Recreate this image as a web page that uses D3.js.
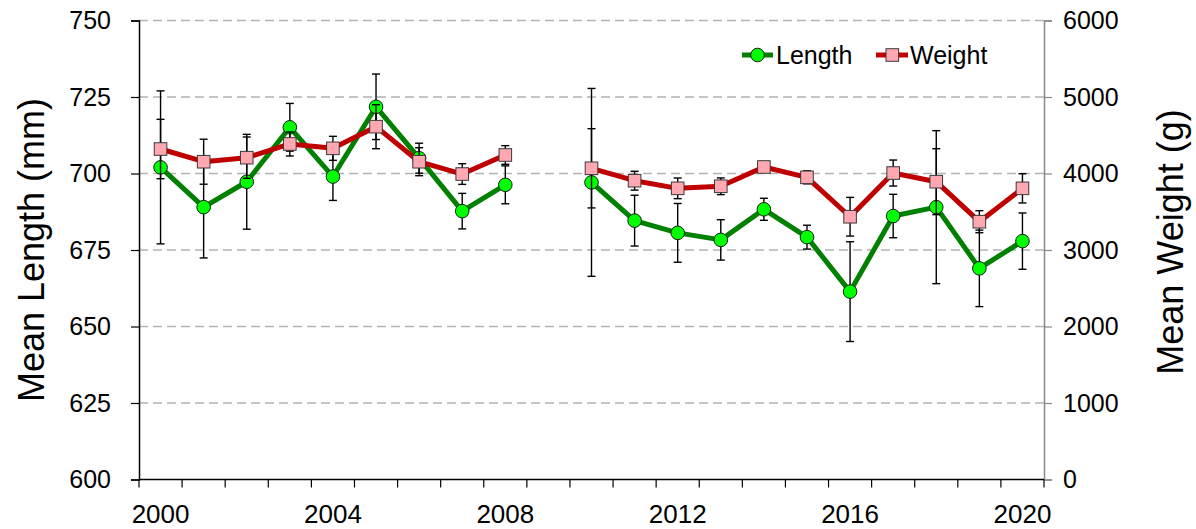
<!DOCTYPE html>
<html>
<head>
<meta charset="utf-8">
<script src="https://cdn.jsdelivr.net/npm/d3@7"></script>
<style>
  html, body { margin: 0; padding: 0; background: #fff; }
  svg { display: block; font-family: "Liberation Sans", Arial, sans-serif; }
</style>
</head>
<body>
<svg id="chart" width="1196" height="529"></svg>
<script>
// Survey years (no sampling in 2009)
const years = [2000, 2001, 2002, 2003, 2004, 2005, 2006, 2007, 2008, 2009,
               2010, 2011, 2012, 2013, 2014, 2015, 2016, 2017, 2018, 2019, 2020];
const yearLabels = [2000, 2004, 2008, 2012, 2016, 2020];

// Mean fork length (mm) and its error
const meanLength = [702.0, 689.0, 697.3, 715.1, 699.0, 721.8, 705.0, 687.7, 696.3, null,
                    697.1, 684.6, 680.6, 678.3, 688.3, 679.2, 661.4, 686.1, 689.0, 669.0, 677.9];
const lengthErr  = [25.0, 16.6, 15.5, 7.8, 7.8, 10.7, 4.9, 5.8, 6.2, null,
                    30.7, 8.3, 9.6, 6.6, 3.6, 3.9, 16.3, 7.1, 25.0, 12.5, 9.2];

// Mean weight (g) and its error
const meanWeight = [4320, 4154, 4207, 4386, 4329, 4612, 4154, 3993, 4242, null,
                    4068, 3906, 3806, 3833, 4085, 3950, 3435, 4006, 3893, 3370, 3806];
const weightErr  = [388, 294, 270, 157, 157, 288, 183, 135, 122, null,
                    518, 123, 135, 109, 60, 85, 253, 170, 431, 144, 191];

const lengthTicks = [600, 625, 650, 675, 700, 725, 750];
const weightTicks = [0, 1000, 2000, 3000, 4000, 5000, 6000];

const svg = d3.select("#chart");
const plotL = 139, plotR = 1044, plotT = 20.5, plotB = 479.5;

const x = d3.scaleBand().domain(years).range([plotL, plotR]).padding(0);
const cx = yr => x(yr) + x.bandwidth() / 2;
const yL = d3.scaleLinear().domain([600, 750]).range([plotB, plotT]);
const yW = d3.scaleLinear().domain([0, 6000]).range([plotB, plotT]);

// dashed gridlines
svg.append("g").selectAll("line")
  .data(lengthTicks.filter(t => t > 600))
  .join("line")
  .attr("x1", plotL).attr("x2", plotR)
  .attr("y1", d => yL(d)).attr("y2", d => yL(d))
  .attr("stroke", "#b3b3b3").attr("stroke-width", 1.5)
  .attr("stroke-dasharray", "9,5");

// left axis
const axL = svg.append("g").attr("transform", `translate(${plotL},0)`)
  .call(d3.axisLeft(yL).tickValues(lengthTicks).tickSize(8).tickPadding(20));
axL.select(".domain").attr("stroke", "#000").attr("stroke-width", 1.5);
axL.selectAll(".tick line").attr("stroke", "#000").attr("stroke-width", 1.2);
axL.selectAll("text").attr("font-size", 25).attr("fill", "#000")
  .attr("font-family", "Liberation Sans, Arial, sans-serif");

// right axis
const axR = svg.append("g").attr("transform", `translate(${plotR},0)`)
  .call(d3.axisRight(yW).tickValues(weightTicks).tickFormat(d3.format("d"))
    .tickSize(8).tickPadding(11));
axR.select(".domain").attr("stroke", "#888").attr("stroke-width", 1.5);
axR.selectAll(".tick line").attr("stroke", "#888").attr("stroke-width", 1.2);
axR.selectAll("text").attr("font-size", 25).attr("fill", "#000")
  .attr("font-family", "Liberation Sans, Arial, sans-serif");

// bottom axis: ticks on category boundaries, labels on category centres
const xb = svg.append("g").attr("transform", `translate(0,${plotB})`);
xb.append("line").attr("x1", plotL).attr("x2", plotR)
  .attr("stroke", "#000").attr("stroke-width", 1.5);
const bounds = years.map(y => x(y)).concat([x(years[years.length - 1]) + x.bandwidth()]);
xb.selectAll("line.tk").data(bounds).join("line").attr("class", "tk")
  .attr("x1", d => d).attr("x2", d => d).attr("y1", 0).attr("y2", 8)
  .attr("stroke", "#000").attr("stroke-width", 1.2);
xb.selectAll("text").data(yearLabels).join("text")
  .attr("x", d => cx(d)).attr("y", 43)
  .attr("text-anchor", "middle").attr("font-size", 26).attr("fill", "#000")
  .text(d => d);

// axis titles
svg.append("text")
  .attr("transform", `translate(44,250) rotate(-90)`)
  .attr("text-anchor", "middle").attr("font-size", 36).attr("fill", "#000")
  .text("Mean Length (mm)");
svg.append("text")
  .attr("transform", `translate(1183,242) rotate(-90)`)
  .attr("text-anchor", "middle").attr("font-size", 36).attr("fill", "#000")
  .text("Mean Weight (g)");

const lenData = years.map((yr, i) => ({ yr, v: meanLength[i], e: lengthErr[i] }));
const wtData = years.map((yr, i) => ({ yr, v: meanWeight[i], e: weightErr[i] }));

function errorBars(data, yScale) {
  const g = svg.append("g").attr("stroke", "#000").attr("stroke-width", 1.4);
  const d = data.filter(p => p.v != null);
  g.selectAll("line.v").data(d).join("line").attr("class", "v")
    .attr("x1", p => cx(p.yr)).attr("x2", p => cx(p.yr))
    .attr("y1", p => yScale(p.v + p.e)).attr("y2", p => yScale(p.v - p.e));
  [1, -1].forEach(s => {
    const cls = s > 0 ? "cu" : "cd";
    g.selectAll("line." + cls).data(d).join("line").attr("class", cls)
      .attr("x1", p => cx(p.yr) - 4).attr("x2", p => cx(p.yr) + 4)
      .attr("y1", p => yScale(p.v + s * p.e)).attr("y2", p => yScale(p.v + s * p.e));
  });
}

// Length series
errorBars(lenData, yL);
svg.append("path").datum(lenData)
  .attr("d", d3.line().defined(p => p.v != null).x(p => cx(p.yr)).y(p => yL(p.v)))
  .attr("fill", "none").attr("stroke", "#008000").attr("stroke-width", 5)
  .attr("stroke-linejoin", "round");
svg.append("g").selectAll("circle").data(lenData.filter(p => p.v != null)).join("circle")
  .attr("cx", p => cx(p.yr)).attr("cy", p => yL(p.v)).attr("r", 6.8)
  .attr("fill", "#00ff00").attr("stroke", "#1a1a1a").attr("stroke-width", 1);

// Weight series
errorBars(wtData, yW);
svg.append("path").datum(wtData)
  .attr("d", d3.line().defined(p => p.v != null).x(p => cx(p.yr)).y(p => yW(p.v)))
  .attr("fill", "none").attr("stroke", "#c00000").attr("stroke-width", 5)
  .attr("stroke-linejoin", "round");
svg.append("g").selectAll("rect").data(wtData.filter(p => p.v != null)).join("rect")
  .attr("x", p => cx(p.yr) - 6.3).attr("y", p => yW(p.v) - 6.3)
  .attr("width", 12.6).attr("height", 12.6)
  .attr("fill", "#ffa8b2").attr("stroke", "#3a3a3a").attr("stroke-width", 1);

// legend
const lg = svg.append("g").attr("transform", "translate(0,55)");
lg.append("line").attr("x1", 742).attr("x2", 773).attr("stroke", "#008000").attr("stroke-width", 5);
lg.append("circle").attr("cx", 757.5).attr("cy", 0).attr("r", 6.8)
  .attr("fill", "#00ff00").attr("stroke", "#1a1a1a").attr("stroke-width", 1);
lg.append("text").attr("x", 776).attr("y", 9).attr("font-size", 25).attr("fill", "#000").text("Length");
lg.append("line").attr("x1", 876).attr("x2", 908).attr("stroke", "#c00000").attr("stroke-width", 5);
lg.append("rect").attr("x", 886).attr("y", -6.3).attr("width", 12.6).attr("height", 12.6)
  .attr("fill", "#ffa8b2").attr("stroke", "#3a3a3a").attr("stroke-width", 1);
lg.append("text").attr("x", 910).attr("y", 9).attr("font-size", 25).attr("fill", "#000").text("Weight");
</script>
</body>
</html>
